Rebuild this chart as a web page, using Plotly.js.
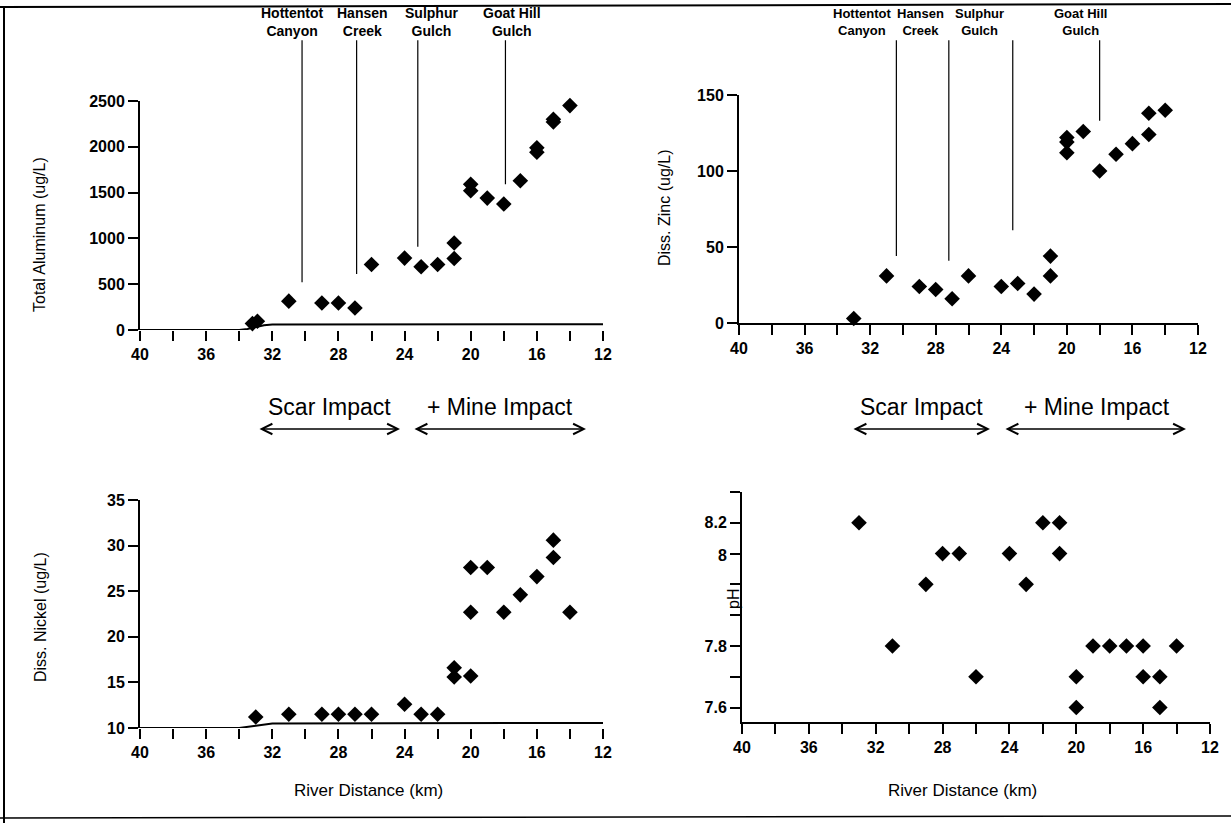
<!DOCTYPE html>
<html>
<head>
<meta charset="utf-8">
<script src="https://cdn.plot.ly/plotly-3.0.1.min.js"></script>
<style>html,body{margin:0;padding:0;background:#fff}</style>
</head>
<body>
<div id="chart" style="width:1231px;height:823px"></div>
<script>
// ---------------- data ----------------
// Total aluminum (ug/L) vs river distance (km)
const alKm   = [33.2, 32.9, 31, 29, 28, 27, 26, 24, 23, 22, 21, 21, 20, 20, 19, 18, 17, 16, 16, 15, 15, 14];
const alUgL  = [70, 95, 315, 295, 295, 240, 715, 785, 690, 715, 780, 950, 1520, 1590, 1440, 1375, 1630, 1940, 1990, 2270, 2300, 2450];
const alBaseKm  = [40, 34, 33.5, 33, 32.5, 32, 12];
const alBaseVal = [0, 0, 12, 35, 52, 60, 62];

// Dissolved zinc (ug/L)
const znKm  = [33, 31, 29, 28, 27, 26, 24, 23, 22, 21, 21, 20, 20, 20, 19, 18, 17, 16, 15, 15, 14];
const znUgL = [3, 31, 24, 22, 16, 31, 24, 26, 19, 31, 44, 122, 119, 112, 126, 100, 111, 118, 124, 138, 140];

// Dissolved nickel (ug/L)
const niKm  = [33, 31, 29, 28, 27, 26, 24, 23, 22, 21, 21, 20, 20, 20, 19, 18, 17, 16, 15, 15, 14];
const niUgL = [11.2, 11.5, 11.5, 11.5, 11.5, 11.5, 12.6, 11.5, 11.5, 16.6, 15.6, 15.7, 22.7, 27.6, 27.6, 22.7, 24.6, 26.6, 28.7, 30.6, 22.7];
const niBaseKm  = [40, 34, 33, 32, 12];
const niBaseVal = [10, 10, 10.25, 10.5, 10.55];

// pH
const phKm  = [33, 31, 29, 28, 27, 26, 24, 23, 22, 21, 21, 20, 20, 19, 18, 17, 16, 16, 15, 15, 14];
const phVal = [8.2, 7.8, 8.0, 8.1, 8.1, 7.7, 8.1, 8.0, 8.2, 8.2, 8.1, 7.7, 7.6, 7.8, 7.8, 7.8, 7.8, 7.7, 7.7, 7.6, 7.8];
const phTickVals = [7.6, 7.7, 7.8, 7.9, 8.0, 8.1, 8.2, 8.3];
const phTickText = ['7.6', '', '7.8', '', '', '', '8.2', ''];

// Tributaries (leader lines)
const siteNames = ['Hottentot<br>Canyon', 'Hansen<br>Creek', 'Sulphur<br>Gulch', 'Goat Hill<br>Gulch'];
const alSiteKm  = [30.2, 26.9, 23.2, 17.9];
const alSiteVal = [520, 610, 910, 1590];
const znSiteKm  = [30.4, 27.2, 23.3, 18.0];
const znSiteVal = [44, 41, 61, 133];

const impactLabels = ['Scar Impact', '+ Mine Impact'];

// ---------------- layout helpers ----------------
const W = 1231, H = 823;
const px = p => p / W;
const py = p => 1 - p / H;
const FONT = 'Liberation Sans, Arial, Helvetica, sans-serif';
const tickfont = {family: FONT, size: 16, color: '#000', weight: 'bold'};

function xAxis(l, r, anchor, showline) {
  return {
    domain: [px(l), px(r)], anchor: anchor, range: [40, 12],
    tickmode: 'linear', tick0: 0, dtick: 4,
    ticks: 'outside', ticklen: 10, tickwidth: 2, tickcolor: '#000',
    showline: showline, linewidth: 2, linecolor: '#000',
    showgrid: false, zeroline: false, tickfont: tickfont,
    minor: {tickmode: 'linear', tick0: 0, dtick: 2, ticks: 'outside', ticklen: 10, tickwidth: 2, tickcolor: '#000', showgrid: false},
    fixedrange: true
  };
}
function yAxis(top, bottom, anchor, range, dtick) {
  return {
    domain: [py(bottom), py(top)], anchor: anchor, range: range,
    tickmode: 'linear', tick0: range[0], dtick: dtick,
    ticks: 'outside', ticklen: 10, tickwidth: 2, tickcolor: '#000',
    showline: true, linewidth: 2, linecolor: '#000',
    showgrid: false, zeroline: false, tickfont: tickfont, fixedrange: true
  };
}

const marker = {symbol: 'diamond', size: 12, color: '#000'};
const traces = [
  {x: alBaseKm, y: alBaseVal, mode: 'lines', line: {color: '#000', width: 2}, xaxis: 'x', yaxis: 'y', hoverinfo: 'skip'},
  {x: alKm, y: alUgL, mode: 'markers', marker: marker, xaxis: 'x', yaxis: 'y', cliponaxis: false},
  {x: znKm, y: znUgL, mode: 'markers', marker: marker, xaxis: 'x2', yaxis: 'y2', cliponaxis: false},
  {x: niBaseKm, y: niBaseVal, mode: 'lines', line: {color: '#000', width: 2}, xaxis: 'x3', yaxis: 'y3', hoverinfo: 'skip'},
  {x: niKm, y: niUgL, mode: 'markers', marker: marker, xaxis: 'x3', yaxis: 'y3', cliponaxis: false},
  {x: phKm, y: phVal, mode: 'markers', marker: marker, xaxis: 'x4', yaxis: 'y4', cliponaxis: false}
];

const yax4 = yAxis(492, 722, 'x4', [7.553, 8.3], 0.1);
yax4.tickmode = 'array'; yax4.tickvals = phTickVals; yax4.ticktext = phTickText;

const layout = {
  width: W, height: H,
  margin: {l: 0, r: 0, t: 0, b: 0},
  paper_bgcolor: '#fff', plot_bgcolor: '#fff',
  showlegend: false,
  font: {family: FONT, color: '#000'},
  xaxis:  xAxis(140, 603, 'y', false),
  yaxis:  yAxis(101, 330, 'x', [0, 2500], 500),
  xaxis2: xAxis(739, 1198, 'y2', true),
  yaxis2: yAxis(95, 323, 'x2', [0, 150], 50),
  xaxis3: xAxis(140, 603, 'y3', false),
  yaxis3: yAxis(500, 728, 'x3', [10, 35], 5),
  xaxis4: xAxis(742, 1210, 'y4', true),
  yaxis4: yax4,
  annotations: [],
  shapes: [
    {type: 'line', xref: 'paper', yref: 'paper', x0: 0, x1: 1, y0: py(7), y1: py(4), line: {color: '#000', width: 2}},
    {type: 'line', xref: 'paper', yref: 'paper', x0: px(4), x1: px(4), y0: py(6), y1: 0, line: {color: '#000', width: 2}},
    {type: 'line', xref: 'paper', yref: 'paper', x0: 0, x1: 1, y0: py(818), y1: py(816), line: {color: '#000', width: 1.5}}
  ]
};

const A = layout.annotations;
function txt(text, x, y, font, extra) {
  return Object.assign({text: text, xref: 'paper', yref: 'paper', x: px(x), y: py(y),
    xanchor: 'center', yanchor: 'middle', showarrow: false, font: font}, extra || {});
}
const titleFont = {family: FONT, size: 16, color: '#000'};
// axis titles
A.push(txt('Total Aluminum (ug/L)', 40, 234, titleFont, {textangle: -90}));
A.push(txt('Diss. Zinc (ug/L)', 664, 208, titleFont, {textangle: -90}));
A.push(txt('Diss. Nickel (ug/L)', 40, 617, titleFont, {textangle: -90}));
A.push(txt('pH', 733, 599, titleFont, {textangle: -90}));
A.push(txt('River Distance (km)', 368, 790, {family: FONT, size: 17, color: '#000'}));
A.push(txt('River Distance (km)', 962, 790, {family: FONT, size: 17, color: '#000'}));
// the "8" pH tick label as printed
A.push({text: '8', xref: 'paper', yref: 'y4', x: px(729), xanchor: 'right', yanchor: 'middle', y: 8.093, showarrow: false, font: tickfont});

// tributary labels
const siteFontL = {family: FONT, size: 14, color: '#000', weight: 'bold'};
const siteFontR = {family: FONT, size: 13, color: '#000', weight: 'bold'};
const alLabelX = [292, 362, 432, 512];
const znLabelX = [862, 920, 979, 1080];
siteNames.forEach((s, i) => {
  A.push(txt(s, alLabelX[i], 22, siteFontL));
  A.push(txt(s, znLabelX[i], 22, siteFontR));
});
// leader lines (data coords for bottom, top above the plot)
alSiteKm.forEach((k, i) => {
  A.push({text: '', xref: 'x', yref: 'y', x: k, y: alSiteVal[i], axref: 'x', ayref: 'y', ax: k, ay: 3180,
          showarrow: true, arrowhead: 0, arrowwidth: 1.2, arrowcolor: '#000', standoff: 0, startstandoff: 0});
});
znSiteKm.forEach((k, i) => {
  A.push({text: '', xref: 'x2', yref: 'y2', x: k, y: znSiteVal[i], axref: 'x2', ayref: 'y2', ax: k, ay: 187,
          showarrow: true, arrowhead: 0, arrowwidth: 1.2, arrowcolor: '#000', standoff: 0, startstandoff: 0});
});

// impact labels & arrows
const impFont = {family: FONT, size: 23, color: '#000'};
const impTextX = [[329, 500], [921, 1097]];
const impArrows = [[[258, 400], [413, 586]], [[852, 990], [1004, 1186]]];
[0, 1].forEach(p => {
  [0, 1].forEach(j => {
    A.push(txt(impactLabels[j], impTextX[p][j], 407, impFont));
    const a = impArrows[p][j];
    A.push({text: '', xref: 'paper', yref: 'paper', x: px(a[1]), y: py(429), ax: -(a[1] - a[0]), ay: 0,
            showarrow: true, arrowside: 'end+start', arrowhead: 5, startarrowhead: 5, arrowsize: 1.6, startarrowsize: 1.6,
            arrowwidth: 1.3, arrowcolor: '#000', standoff: 0, startstandoff: 0});
  });
});

Plotly.newPlot('chart', traces, layout, {displayModeBar: false, staticPlot: true});
</script>
</body>
</html>
